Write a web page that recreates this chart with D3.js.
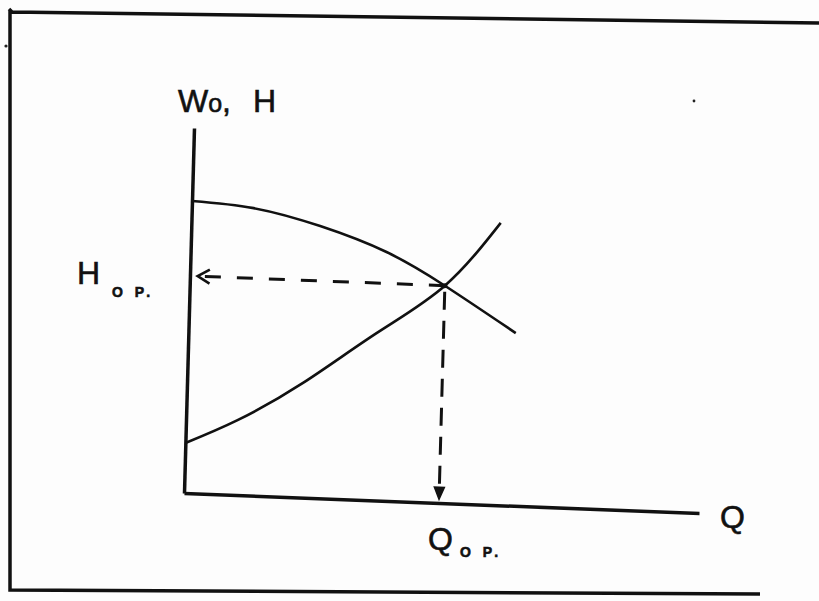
<!DOCTYPE html>
<html>
<head>
<meta charset="utf-8">
<script src="https://cdn.jsdelivr.net/npm/d3@7"></script>
<style>
  body { margin: 0; background: #fdfdfd; }
  svg { display: block; }
  text { font-family: "Liberation Sans", Arial, sans-serif; fill: #111; stroke: #111; stroke-width: 0.6px; }
</style>
</head>
<body>
<svg></svg>
<script>
var width = 819;
var height = 601;

// pump head curve (H vs Q)
var pumpQ = [0, 1.2, 2.5, 3.8, 4.95, 6.35];
var pumpH = [8.0, 7.87, 7.45, 6.81, 5.95, 4.73];

// system curve
var sysQ = [0, 1.0, 2.25, 3.65, 4.95, 6.0];
var sysH = [1.37, 2.05, 3.14, 4.58, 5.95, 7.73];

// operating point
var opQ = 4.95;
var opH = 5.95;

var axisMax = [10, 10];
var labels = ["W", "o", ",", "H", "Q", "O P."];

var svg = d3.select("svg")
    .attr("width", width)
    .attr("height", height);

//scanned frame
svg.append("path")
    .attr("d", "M9,9 L12,12 L819,23 M10,11 L10,590 L760,594")
    .attr("fill", "none")
    .attr("stroke", "#111")
    .attr("stroke-width", 3.5);
svg.append("circle").attr("cx", 6).attr("cy", 46).attr("r", 1.6).attr("fill", "#222");
svg.append("circle").attr("cx", 694).attr("cy", 101).attr("r", 1.4).attr("fill", "#222");

var x = d3.scaleLinear().domain([0, axisMax[0]]).range([0, 515]);
var y = d3.scaleLinear().domain([0, axisMax[1]]).range([0, -365]);

// the sketch is a little skewed, so the plot sits in a sheared frame
var skew = { b: 20 / 515, c: -10 / 365, e: 184, f: 493 };
function toPx(q, h) {
    var X = x(q), Y = y(h);
    return [X + skew.c * Y + skew.e, skew.b * X + Y + skew.f];
}

var plot = svg.append("g")
    .attr("transform", "matrix(1," + skew.b + "," + skew.c + ",1," + skew.e + "," + skew.f + ")");

// axes (no ticks in the sketch)
plot.append("g")
    .call(d3.axisBottom(x).tickValues([]).tickSizeOuter(0))
    .select(".domain").attr("stroke", "#111").attr("stroke-width", 3.5);
plot.append("g")
    .call(d3.axisLeft(y).tickValues([]).tickSizeOuter(0))
    .select(".domain").attr("stroke", "#111").attr("stroke-width", 3.5);

var line = d3.line()
    .x(function(d) { return x(d[0]); })
    .y(function(d) { return y(d[1]); })
    .curve(d3.curveNatural);

plot.append("path")
    .datum(d3.zip(pumpQ, pumpH))
    .attr("d", line)
    .attr("fill", "none")
    .attr("stroke", "#111")
    .attr("stroke-width", 2.6);

plot.append("path")
    .datum(d3.zip(sysQ, sysH))
    .attr("d", line)
    .attr("fill", "none")
    .attr("stroke", "#111")
    .attr("stroke-width", 2.6);

// dashed guides to the axes
plot.append("line")
    .attr("x1", x(opQ)).attr("y1", y(opH))
    .attr("x2", x(0.2)).attr("y2", y(opH))
    .attr("stroke", "#111")
    .attr("stroke-width", 3)
    .attr("stroke-dasharray", "16,16");

plot.append("path")
    .attr("d", "M" + (x(0.15) + 12) + "," + (y(opH) - 7) + "L" + x(0.15) + "," + y(opH) +
        "L" + (x(0.15) + 12) + "," + (y(opH) + 7))
    .attr("fill", "none")
    .attr("stroke", "#111")
    .attr("stroke-width", 2.6);

plot.append("line")
    .attr("x1", x(opQ)).attr("y1", y(opH) + 6)
    .attr("x2", x(opQ)).attr("y2", y(0.4))
    .attr("stroke", "#111")
    .attr("stroke-width", 3)
    .attr("stroke-dasharray", "18,11");

plot.append("path")
    .attr("d", "M" + (x(opQ) - 5) + "," + (y(0.1) - 12) + "L" + x(opQ) + "," + y(0.1) +
        "L" + (x(opQ) + 5) + "," + (y(0.1) - 12) + "Z")
    .attr("fill", "#111")
    .attr("stroke", "#111")
    .attr("stroke-width", 1.5);

plot.append("circle")
    .attr("cx", x(opQ)).attr("cy", y(opH))
    .attr("r", 2.5).attr("fill", "#111");

// labels
var yTop = toPx(0, axisMax[1]);
var yl = svg.append("text")
    .attr("x", yTop[0] - 16)
    .attr("y", yTop[1] - 16)
    .style("font-size", "32px");
yl.append("tspan").text(labels[0]);
yl.append("tspan").style("font-size", "25px").text(labels[1]);
yl.append("tspan").text(labels[2]);
yl.append("tspan").attr("x", yTop[0] + 59).text(labels[3]);

var xEnd = toPx(axisMax[0], 0);
svg.append("text")
    .attr("x", xEnd[0] + 21)
    .attr("y", xEnd[1] + 15)
    .style("font-size", "32px")
    .text(labels[4]);

var hp = toPx(0, opH);
svg.append("text")
    .attr("x", hp[0] - 113)
    .attr("y", hp[1] + 8)
    .style("font-size", "32px")
    .text(labels[3]);
svg.append("text")
    .attr("x", hp[0] - 78)
    .attr("y", hp[1] + 21)
    .style("font-size", "14px")
    .style("font-weight", "bold")
    .style("letter-spacing", "4px")
    .text(labels[5]);

var qp = toPx(opQ, 0);
svg.append("text")
    .attr("x", qp[0] - 11)
    .attr("y", qp[1] + 47)
    .style("font-size", "32px")
    .text(labels[4]);
svg.append("text")
    .attr("x", qp[0] + 21)
    .attr("y", qp[1] + 54)
    .style("font-size", "14px")
    .style("font-weight", "bold")
    .style("letter-spacing", "4px")
    .text(labels[5]);
</script>
</body>
</html>
